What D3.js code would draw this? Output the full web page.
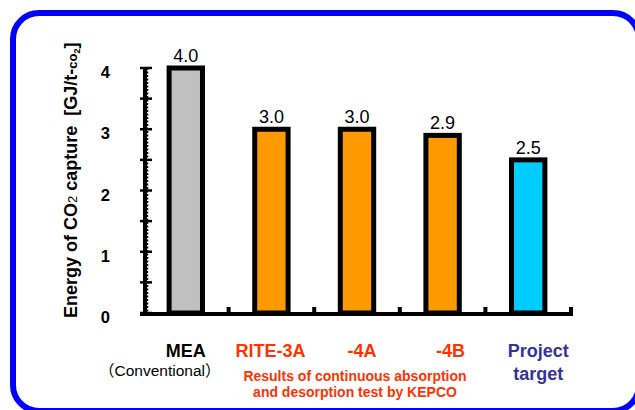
<!DOCTYPE html>
<html>
<head>
<meta charset="utf-8">
<script src="https://cdn.jsdelivr.net/npm/d3@7"></script>
<style>
  html, body { margin: 0; padding: 0; background: #fff; }
  svg { display: block; font-family: "Liberation Sans", Arial, "Noto Sans CJK JP", sans-serif; }
</style>
</head>
<body>
<svg id="chart"></svg>
<script>
// chart values
const categories = ["MEA", "RITE-3A", "-4A", "-4B", "Project target"];
const energy = [4.0, 3.0, 3.0, 2.9, 2.5];
const valueLabels = ["4.0", "3.0", "3.0", "2.9", "2.5"];
const barColors = ["#c0c0c0", "#ff9900", "#ff9900", "#ff9900", "#00ccff"];
const yTicks = [0, 1, 2, 3, 4];
const yMinorTicks = [0.5, 1.5, 2.5, 3.5];

const width = 635, height = 410;
const margin = { top: 68, right: 64, bottom: 97, left: 143 };

const svg = d3.select("#chart")
  .attr("width", width)
  .attr("height", height);

// rounded blue frame
svg.append("rect")
  .attr("x", 13).attr("y", 13)
  .attr("width", 626).attr("height", 398)
  .attr("rx", 26).attr("ry", 26)
  .attr("fill", "none")
  .attr("stroke", "#0000ff")
  .attr("stroke-width", 6);

const x = d3.scaleBand()
  .domain(categories)
  .range([margin.left, width - margin.right])
  .padding(0);

const y = d3.scaleLinear()
  .domain([0, 4])
  .range([height - margin.bottom, margin.top]);

const x0 = margin.left;
const y0 = y(0) + 1;

// y axis: thick line with ticks on both sides
svg.append("line")
  .attr("x1", x0 + 2).attr("x2", x0 + 2)
  .attr("y1", y(4)).attr("y2", y0)
  .attr("stroke", "#000").attr("stroke-width", 4);
svg.append("line")
  .attr("x1", x0 + 4.5).attr("x2", x0 + 4.5)
  .attr("y1", y(4)).attr("y2", y0)
  .attr("stroke", "#000").attr("stroke-width", 1.5)
  .attr("stroke-dasharray", "2,1.5");

svg.selectAll(".ytick")
  .data(yTicks.concat(yMinorTicks))
  .enter().append("line")
  .attr("class", "ytick")
  .attr("x1", x0 - 3).attr("x2", x0 + 9)
  .attr("y1", d => y(d)).attr("y2", d => y(d))
  .attr("stroke", "#000").attr("stroke-width", 2.5);

svg.selectAll(".ylabel")
  .data(yTicks)
  .enter().append("text")
  .attr("class", "ylabel")
  .attr("x", x0 - 33)
  .attr("y", d => y(d) + 10)
  .attr("text-anchor", "end")
  .attr("font-size", 16.5)
  .attr("font-weight", "bold")
  .text(d => d);

// y axis title
const title = svg.append("text")
  .attr("transform", `translate(77,${y0 + 4}) rotate(-90)`)
  .attr("font-size", 18)
  .attr("font-weight", "bold");
title.append("tspan").text("Energy of CO");
title.append("tspan").attr("font-size", 13).attr("font-weight", "normal").text("2");
title.append("tspan").text(" capture\u00a0\u00a0[GJ/t-");
title.append("tspan").attr("font-size", 13).text("co");
title.append("tspan").attr("font-size", 9).attr("dy", 3).text("2");
title.append("tspan").attr("dy", -3).text("]");

// bars
const barW = x.bandwidth() * 0.39;
svg.selectAll(".bar")
  .data(categories)
  .enter().append("rect")
  .attr("class", "bar")
  .attr("x", d => x(d) + (x.bandwidth() - barW) / 2)
  .attr("y", (d, i) => y(energy[i]))
  .attr("width", barW)
  .attr("height", (d, i) => y(0) - y(energy[i]))
  .attr("fill", (d, i) => barColors[i])
  .attr("stroke", "#000")
  .attr("stroke-width", 5);

svg.selectAll(".value")
  .data(categories)
  .enter().append("text")
  .attr("class", "value")
  .attr("x", d => x(d) + x.bandwidth() / 2)
  .attr("y", (d, i) => y(energy[i]) - 6)
  .attr("text-anchor", "middle")
  .attr("font-size", 18)
  .text((d, i) => valueLabels[i]);

// x axis
svg.append("line")
  .attr("x1", x0 - 3).attr("x2", width - margin.right + 2)
  .attr("y1", y0).attr("y2", y0)
  .attr("stroke", "#000").attr("stroke-width", 4);

svg.selectAll(".xtick")
  .data(categories)
  .enter().append("line")
  .attr("class", "xtick")
  .attr("x1", d => x(d) + x.bandwidth()).attr("x2", d => x(d) + x.bandwidth())
  .attr("y1", y0).attr("y2", y0 - 7)
  .attr("stroke", "#000").attr("stroke-width", 4);

// category labels
const labelDx = [0, -1, 5, 8, 10];
const labelColors = ["#000", "#ff3300", "#ff3300", "#ff3300", "#333399"];
const labelRow = 357;

const catText = svg.selectAll(".cat")
  .data(categories)
  .enter().append("text")
  .attr("class", "cat")
  .attr("text-anchor", "middle")
  .attr("font-size", 18)
  .attr("font-weight", "bold")
  .attr("fill", (d, i) => labelColors[i]);

catText.each(function (d, i) {
  const cx = x(d) + x.bandwidth() / 2 + labelDx[i];
  const lines = d === "Project target" ? ["Project", "target"] : [d];
  lines.forEach((t, k) => {
    d3.select(this).append("tspan")
      .attr("x", cx)
      .attr("y", labelRow + k * 23)
      .text(t);
  });
});

svg.append("text")
  .attr("x", x("MEA") + x.bandwidth() / 2 - 26)
  .attr("y", labelRow + 19)
  .attr("text-anchor", "middle")
  .attr("font-size", 15.5)
  .text("（Conventional）");

const noteX = (x("RITE-3A") + x("-4B") + x.bandwidth()) / 2 - 2;
const note = svg.append("text")
  .attr("text-anchor", "middle")
  .attr("font-size", 14)
  .attr("font-weight", "bold")
  .attr("fill", "#ff3300");
note.append("tspan").attr("x", noteX).attr("y", labelRow + 24)
  .text("Results of continuous absorption");
note.append("tspan").attr("x", noteX).attr("y", labelRow + 40)
  .text("and desorption test by KEPCO");
</script>
</body>
</html>
